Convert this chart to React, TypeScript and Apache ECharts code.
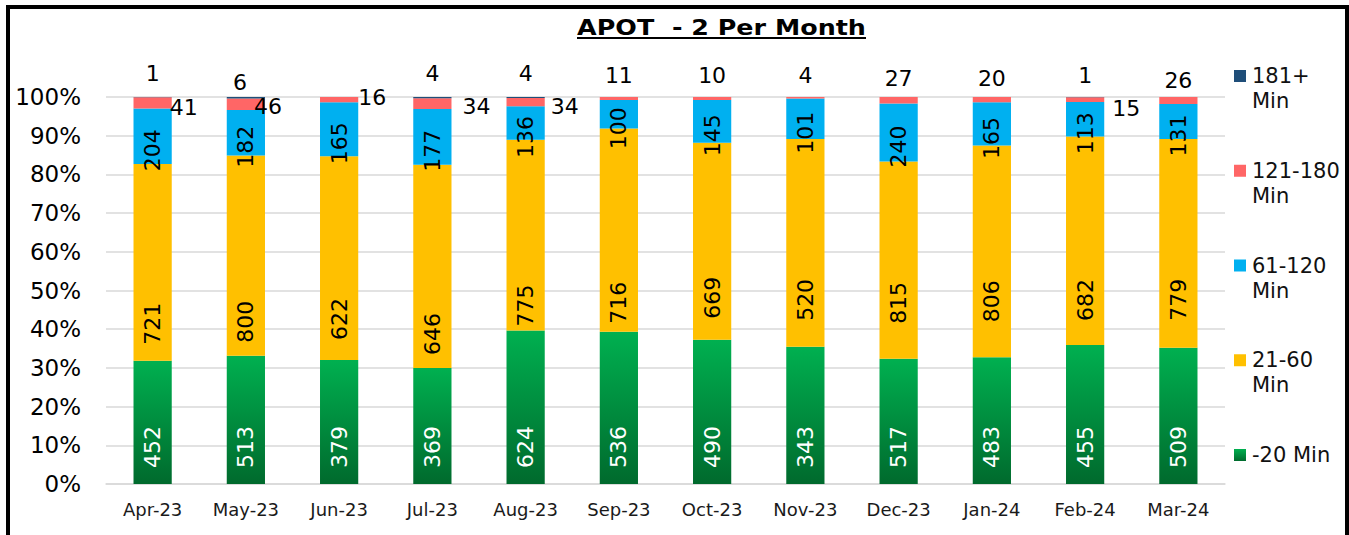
import React, { useEffect, useRef } from "react";
import * as echarts from "echarts";

const months = ["Apr-23", "May-23", "Jun-23", "Jul-23", "Aug-23", "Sep-23", "Oct-23", "Nov-23", "Dec-23", "Jan-24", "Feb-24", "Mar-24"];
const under20 = [452, 513, 379, 369, 624, 536, 490, 343, 517, 483, 455, 509];
const min21to60 = [721, 800, 622, 646, 775, 716, 669, 520, 815, 806, 682, 779];
const min61to120 = [204, 182, 165, 177, 136, 100, 145, 101, 240, 165, 113, 131];
const min121to180 = [41, 46, 16, 34, 34, 11, 10, 4, 27, 20, 15, 26];
const min181plus = [1, 6, 0, 4, 4, 0, 0, 0, 0, 0, 1, 0];

const seriesNames = ["-20 Min", "21-60 Min", "61-120 Min", "121-180 Min", "181+ Min"];
const legendTexts = ["181+\nMin", "121-180\nMin", "61-120\nMin", "21-60\nMin", "-20 Min"];
const titleText = "APOT  - 2 Per Month";

const FONT = '"DejaVu Sans", Verdana, sans-serif';

// label placement tweaks (style only)
const rightLabelPlacement: Record<number, { dist: number; dy: number }> = {
  0: { dist: -2, dy: 5 },
  1: { dist: -11, dy: 2 },
  2: { dist: 0, dy: -2 },
  3: { dist: 11, dy: 3 },
  4: { dist: 6, dy: 4 },
  10: { dist: 8, dy: 9 },
};
const topLabelOffset: number[][] = [
  [0, -1], [-6, 8], [0, -1], [0, -1], [0, -1], [0, 1], [0, 1], [0, 1], [0, 4], [0, 4], [0, 1], [0, 6],
];
// downward shift of the manually placed 21-60 labels
const yellowLabelShift = [0, 3, -4, 3, 12, 8, -5, -10, -19, -19, -8, -11];

export default function App() {
  const ref = useRef<HTMLDivElement>(null);

  useEffect(() => {
    if (!ref.current) return;
    const chart = echarts.init(ref.current, null, { renderer: "svg" });

    const raw = [under20, min21to60, min61to120, min121to180, min181plus];
    const totals = months.map((_, i) => raw.reduce((s, arr) => s + arr[i], 0));
    const pct = (arr: number[]) => arr.map((v, i) => (v / totals[i]) * 100);

    const greenGrad = () =>
      new echarts.graphic.LinearGradient(0, 0, 0, 1, [
        { offset: 0, color: "#00b050" },
        { offset: 1, color: "#006a2d" },
      ]);
    const colors = [greenGrad(), "#ffc000", "#00b0f0", "#ff6666", "#1f4e79"];
    const legendColors = [colors[4], colors[3], colors[2], colors[1], greenGrad()];

    const fmt = (arr: number[]) => (p: any) => (arr[p.dataIndex] ? String(arr[p.dataIndex]) : "");

    const insideBase = (color: string) => ({
      show: true,
      position: "insideBottom",
      distance: 16,
      rotate: 90,
      align: "left",
      verticalAlign: "middle",
      fontSize: 22,
      fontFamily: FONT,
      color,
    });

    const topLabel = (i: number) => ({
      show: true,
      position: "top",
      distance: 12,
      offset: topLabelOffset[i],
      rotate: 0,
      align: "center",
      verticalAlign: "bottom",
    });

    const yellowData = pct(min21to60).map((v, i) => ({
      value: v,
      label: { distance: 16 - yellowLabelShift[i] },
    }));

    const redData = pct(min121to180).map((v, i) => {
      const rp = rightLabelPlacement[i];
      if (rp) {
        return {
          value: v,
          label: {
            show: true,
            position: "right",
            distance: rp.dist,
            offset: [0, rp.dy],
            align: "left",
            verticalAlign: "middle",
          },
        };
      }
      return { value: v, label: topLabel(i) };
    });

    const darkData = pct(min181plus).map((v, i) => ({ value: v, label: topLabel(i) }));

    const barWidth = "41%";

    // title measurement for stretching
    const titleFont = `bold 22px ${FONT}`;
    let measured = 243;
    try {
      const ctx = document.createElement("canvas").getContext("2d");
      if (ctx) {
        ctx.font = titleFont;
        measured = ctx.measureText(titleText).width || measured;
      }
    } catch (e) {}
    const titleWidth = 289;
    const titleCx = 721.5;

    const legendGraphics: any[] = [];
    const legendTop = 76;
    const legendStep = 94.75;
    legendTexts.forEach((t, k) => {
      const cy = legendTop + k * legendStep;
      legendGraphics.push({
        type: "rect",
        shape: { x: 1234, y: cy - 6, width: 12, height: 12 },
        style: { fill: legendColors[k] },
      });
      legendGraphics.push({
        type: "text",
        x: 1252,
        y: cy - 12.5,
        style: {
          text: t,
          font: `21px ${FONT}`,
          fill: "#111",
          lineHeight: 25,
          verticalAlign: "top",
          align: "left",
        },
      });
    });

    const option: any = {
      animation: false,
      backgroundColor: "#ffffff",
      textStyle: { fontFamily: FONT },
      grid: { left: 106, right: 124, top: 97, bottom: 51, containLabel: false },
      xAxis: {
        type: "category",
        data: months,
        axisTick: { show: false },
        axisLine: { show: true, lineStyle: { color: "#d9d9d9", width: 1.5 } },
        axisLabel: { fontSize: 18, color: "#1a1a1a", margin: 16, fontFamily: FONT },
      },
      yAxis: {
        type: "value",
        min: 0,
        max: 100,
        interval: 10,
        axisLine: { show: false },
        axisTick: { show: false },
        axisLabel: { formatter: "{value}%", fontSize: 23, color: "#000", margin: 25, fontFamily: FONT },
        splitLine: { lineStyle: { color: "#d9d9d9", width: 1.5 } },
      },
      series: [
        {
          name: seriesNames[0],
          type: "bar",
          stack: "total",
          barWidth,
          data: pct(under20),
          itemStyle: { color: colors[0] },
          label: { ...insideBase("#ffffff"), formatter: fmt(under20) },
        },
        {
          name: seriesNames[1],
          type: "bar",
          stack: "total",
          barWidth,
          data: yellowData,
          itemStyle: { color: colors[1] },
          label: { ...insideBase("#000000"), formatter: fmt(min21to60) },
        },
        {
          name: seriesNames[2],
          type: "bar",
          stack: "total",
          barWidth,
          data: pct(min61to120),
          itemStyle: { color: colors[2] },
          label: {
            show: true,
            position: "inside",
            rotate: 90,
            align: "center",
            verticalAlign: "middle",
            padding: [0, 28, 0, 0],
            fontSize: 22,
            fontFamily: FONT,
            color: "#000",
            formatter: fmt(min61to120),
          },
        },
        {
          name: seriesNames[3],
          type: "bar",
          stack: "total",
          barWidth,
          data: redData,
          itemStyle: { color: colors[3] },
          label: { show: true, fontSize: 22, fontFamily: FONT, color: "#000", formatter: fmt(min121to180) },
        },
        {
          name: seriesNames[4],
          type: "bar",
          stack: "total",
          barWidth,
          data: darkData,
          itemStyle: { color: colors[4] },
          label: { show: true, fontSize: 22, fontFamily: FONT, color: "#000", formatter: fmt(min181plus) },
        },
      ],
      graphic: [
        {
          type: "rect",
          shape: { x: 8, y: 7, width: 1339, height: 600 },
          style: { fill: "none", stroke: "#000", lineWidth: 4 },
          silent: true,
        },
        {
          type: "text",
          x: titleCx,
          y: 28,
          scaleX: titleWidth / measured,
          style: {
            text: titleText,
            font: titleFont,
            fill: "#000",
            align: "center",
            verticalAlign: "middle",
          },
        },
        {
          type: "rect",
          shape: { x: titleCx - titleWidth / 2, y: 37, width: titleWidth, height: 2 },
          style: { fill: "#000" },
        },
        ...legendGraphics,
      ],
    };

    chart.setOption(option);
    return () => chart.dispose();
  }, []);

  return (
    <div
      ref={ref}
      style={{ position: "fixed", left: 0, top: 0, width: 1349, height: 535 }}
    />
  );
}
